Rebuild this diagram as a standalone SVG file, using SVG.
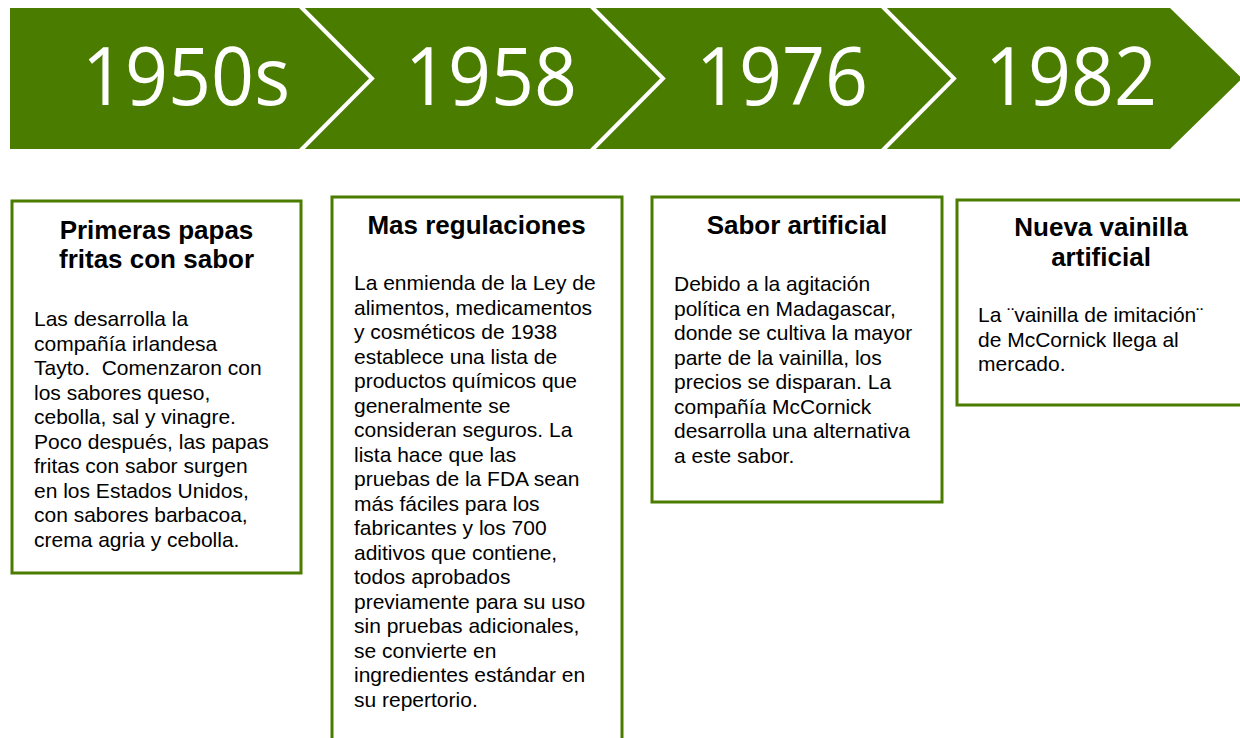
<svg xmlns="http://www.w3.org/2000/svg" width="1240" height="738" viewBox="0 0 1240 738">
<style>
.chev{fill:#4a7c00}
.sep{fill:none;stroke:#fff;stroke-width:4}
.year{fill:#fff;font-family:"Open Sans","Liberation Sans",sans-serif;font-size:80px;text-anchor:middle}
.box{fill:#fff;stroke:#4a7c00;stroke-width:3}
.title{fill:#000;font-family:"Liberation Sans",Arial,sans-serif;font-size:26px;font-weight:bold;text-anchor:middle}
.body{fill:#000;font-family:"Liberation Sans",Arial,sans-serif;font-size:21px}
</style>
<rect width="1240" height="738" fill="#fff"/>
<g id="band">
<g id="chev1950s">
<path class="chev" d="M10,8 H300 L372,78.5 L300,149 H10 Z"/>
<text class="year" x="186" y="105" textLength="208" lengthAdjust="spacingAndGlyphs">1950s</text>
</g>
<g id="chev1958">
<path class="chev" d="M300,8 H591 L663,78.5 L591,149 H300 L372,78.5 Z"/>
<text class="year" x="491" y="105" textLength="172" lengthAdjust="spacingAndGlyphs">1958</text>
</g>
<g id="chev1976">
<path class="chev" d="M591,8 H882 L954,78.5 L882,149 H591 L663,78.5 Z"/>
<text class="year" x="782" y="105" textLength="172" lengthAdjust="spacingAndGlyphs">1976</text>
</g>
<g id="chev1982">
<path class="chev" d="M882,8 H1170 L1242,78.5 L1170,149 H882 L954,78.5 Z"/>
<text class="year" x="1071" y="105" textLength="172" lengthAdjust="spacingAndGlyphs">1982</text>
</g>
<g id="separators">
<polyline class="sep" points="300,6 372,78.5 300,151"/>
<polyline class="sep" points="591,6 663,78.5 591,151"/>
<polyline class="sep" points="882,6 954,78.5 882,151"/>
</g>
</g>
<g id="box1">
<rect class="box" x="12" y="201" width="289" height="372"/>
<text class="title"><tspan x="156.5" y="239">Primeras papas</tspan><tspan x="156.5" y="268">fritas con sabor</tspan></text>
<text class="body">
<tspan x="34" y="326">Las desarrolla la</tspan>
<tspan x="34" dy="24.5">compañía irlandesa</tspan>
<tspan x="34" dy="24.5">Tayto.&#160; Comenzaron con</tspan>
<tspan x="34" dy="24.5">los sabores queso,</tspan>
<tspan x="34" dy="24.5">cebolla, sal y vinagre.</tspan>
<tspan x="34" dy="24.5">Poco después, las papas</tspan>
<tspan x="34" dy="24.5">fritas con sabor surgen</tspan>
<tspan x="34" dy="24.5">en los Estados Unidos,</tspan>
<tspan x="34" dy="24.5">con sabores barbacoa,</tspan>
<tspan x="34" dy="24.5">crema agria y cebolla.</tspan>
</text>
</g>
<g id="box2">
<rect class="box" x="332" y="197" width="290" height="560"/>
<text class="title" x="476.5" y="234">Mas regulaciones</text>
<text class="body">
<tspan x="354" y="290">La enmienda de la Ley de</tspan>
<tspan x="354" dy="24.5">alimentos, medicamentos</tspan>
<tspan x="354" dy="24.5">y cosméticos de 1938</tspan>
<tspan x="354" dy="24.5">establece una lista de</tspan>
<tspan x="354" dy="24.5">productos químicos que</tspan>
<tspan x="354" dy="24.5">generalmente se</tspan>
<tspan x="354" dy="24.5">consideran seguros. La</tspan>
<tspan x="354" dy="24.5">lista hace que las</tspan>
<tspan x="354" dy="24.5">pruebas de la FDA sean</tspan>
<tspan x="354" dy="24.5">más fáciles para los</tspan>
<tspan x="354" dy="24.5">fabricantes y los 700</tspan>
<tspan x="354" dy="24.5">aditivos que contiene,</tspan>
<tspan x="354" dy="24.5">todos aprobados</tspan>
<tspan x="354" dy="24.5">previamente para su uso</tspan>
<tspan x="354" dy="24.5">sin pruebas adicionales,</tspan>
<tspan x="354" dy="24.5">se convierte en</tspan>
<tspan x="354" dy="24.5">ingredientes estándar en</tspan>
<tspan x="354" dy="24.5">su repertorio.</tspan>
</text>
</g>
<g id="box3">
<rect class="box" x="652" y="197" width="290" height="305"/>
<text class="title" x="797" y="234">Sabor artificial</text>
<text class="body">
<tspan x="674" y="291">Debido a la agitación</tspan>
<tspan x="674" dy="24.5">política en Madagascar,</tspan>
<tspan x="674" dy="24.5">donde se cultiva la mayor</tspan>
<tspan x="674" dy="24.5">parte de la vainilla, los</tspan>
<tspan x="674" dy="24.5">precios se disparan. La</tspan>
<tspan x="674" dy="24.5">compañía McCornick</tspan>
<tspan x="674" dy="24.5">desarrolla una alternativa</tspan>
<tspan x="674" dy="24.5">a este sabor.</tspan>
</text>
</g>
<g id="box4">
<rect class="box" x="957" y="200" width="290" height="205"/>
<text class="title"><tspan x="1101" y="236">Nueva vainilla</tspan><tspan x="1101" y="266">artificial</tspan></text>
<text class="body">
<tspan x="978" y="322">La ¨vainilla de imitación¨</tspan>
<tspan x="978" dy="24.5">de McCornick llega al</tspan>
<tspan x="978" dy="24.5">mercado.</tspan>
</text>
</g>
</svg>
